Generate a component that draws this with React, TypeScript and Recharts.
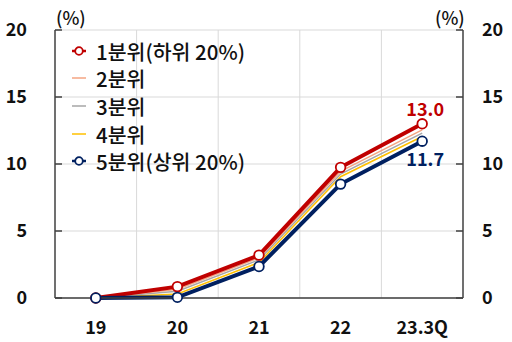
import React from "react";
import {
  LineChart,
  Line,
  XAxis,
  YAxis,
  CartesianGrid,
  ReferenceLine,
} from "recharts";

const categories = ["19", "20", "21", "22", "23.3Q"];
const q1 = [0, 0.85, 3.2, 9.75, 13.0];
const q2 = [0, 0.65, 3.0, 9.45, 12.55];
const q3 = [0, 0.5, 2.85, 9.25, 12.3];
const q4 = [0, 0.3, 2.65, 9.05, 12.05];
const q5 = [0, 0.05, 2.35, 8.5, 11.7];
const yTicks = [0, 5, 10, 15, 20];

const FONT = '"Noto Sans CJK KR", "Noto Sans", sans-serif';
const AXIS = "#404040";

const series = [
  { key: "q1", name: "1분위(하위 20%)", color: "#C00000", width: 4, dot: true },
  { key: "q2", name: "2분위", color: "#F4A582", width: 1.5, dot: false },
  { key: "q3", name: "3분위", color: "#A6A6A6", width: 1.5, dot: false },
  { key: "q4", name: "4분위", color: "#FFC000", width: 1.5, dot: false },
  { key: "q5", name: "5분위(상위 20%)", color: "#002060", width: 4, dot: true },
];

const rows = categories.map((c, i) => ({
  x: i + 0.5,
  label: c,
  q1: q1[i],
  q2: q2[i],
  q3: q3[i],
  q4: q4[i],
  q5: q5[i],
}));

const xTicks = rows.map((r) => r.x);
const boundaries = categories.slice(1).map((_, i) => i + 1);

// 왼쪽 축: 눈금선은 안쪽으로
function LeftTick({ x, y, payload }: any) {
  return (
    <g>
      <line x1={x + 28} x2={x + 35} y1={y} y2={y} stroke={AXIS} strokeWidth={1.5} />
      <text x={x} y={y} dy="0.36em" textAnchor="end" fontFamily={FONT} fontSize={18} fontWeight={700} fill="#111">
        {payload.value}
      </text>
    </g>
  );
}

function RightTick({ x, y, payload }: any) {
  return (
    <g>
      <line x1={x - 26} x2={x - 19} y1={y} y2={y} stroke={AXIS} strokeWidth={1.5} />
      <text x={x} y={y} dy="0.36em" textAnchor="start" fontFamily={FONT} fontSize={18} fontWeight={700} fill="#111">
        {payload.value}
      </text>
    </g>
  );
}

function lastLabel(color: string, dy: number) {
  return (props: any) => {
    const { x, y, index, value } = props;
    if (index !== categories.length - 1) return null;
    return (
      <text x={x + 3} y={y + dy} textAnchor="middle" dominantBaseline="central" fontFamily={FONT} fontSize={18} fontWeight={700} fill={color}>
        {Number(value).toFixed(1)}
      </text>
    );
  };
}

function LegendBox() {
  return (
    <div style={{ position: "absolute", left: 70, top: 37, fontFamily: FONT, fontSize: 20.5, fontWeight: 500, color: "#111" }}>
      {series.map((s) => (
        <div key={s.key} style={{ display: "flex", alignItems: "center", height: 27.6 }}>
          <svg width={20} height={12} style={{ marginRight: 6 }}>
            <line x1={2} x2={16} y1={6} y2={6} stroke={s.color} strokeWidth={s.dot ? 2.5 : 1.5} />
            {s.dot && <circle cx={9} cy={6} r={3.8} fill="#fff" stroke={s.color} strokeWidth={1.8} />}
          </svg>
          <span>{s.name}</span>
        </div>
      ))}
    </div>
  );
}

export default function App() {
  const drawOrder = [series[3], series[2], series[1], series[0], series[4]];
  return (
    <div style={{ position: "absolute", left: 0, top: 0, width: 512, height: 342, background: "#fff" }}>
      <LineChart width={512} height={342} data={rows} margin={{ top: 30, right: 0, bottom: 0, left: 0 }}>
        <CartesianGrid vertical={false} stroke="#D9D9D9" yAxisId="left" />
        {boundaries.map((b) => (
          <ReferenceLine key={b} x={b} yAxisId="left" stroke="#D9D9D9" />
        ))}
        <XAxis
          type="number"
          dataKey="x"
          domain={[0, 5]}
          ticks={xTicks}
          tickFormatter={(v: number) => categories[Math.floor(v)]}
          height={44}
          tickSize={0}
          tickMargin={23}
          axisLine={{ stroke: AXIS, strokeWidth: 1.5 }}
          tick={{ fontFamily: FONT, fontSize: 18, fontWeight: 700, fill: "#111" }}
        />
        <YAxis
          yAxisId="left"
          domain={[0, 20]}
          ticks={yTicks}
          width={55}
          tickSize={0}
          tickMargin={28}
          axisLine={{ stroke: AXIS, strokeWidth: 1.5 }}
          tick={<LeftTick />}
        />
        <YAxis
          yAxisId="right"
          orientation="right"
          domain={[0, 20]}
          ticks={yTicks}
          width={49}
          tickSize={0}
          tickMargin={19}
          axisLine={{ stroke: AXIS, strokeWidth: 1.5 }}
          tick={<RightTick />}
        />
        {drawOrder.map((s) => (
          <Line
            key={s.key}
            yAxisId={s.key === "q5" ? "right" : "left"}
            type="linear"
            dataKey={s.key}
            stroke={s.color}
            strokeWidth={s.width}
            dot={s.dot ? { r: 4.8, fill: "#fff", stroke: s.color, strokeWidth: 1.8 } : false}
            activeDot={false}
            isAnimationActive={false}
            label={s.key === "q1" ? lastLabel(s.color, -16) : s.key === "q5" ? lastLabel(s.color, 17) : undefined}
          />
        ))}
      </LineChart>
      <div style={{ position: "absolute", left: 56, top: 4, fontFamily: FONT, fontSize: 18, fontWeight: 500, color: "#111" }}>(%)</div>
      <div style={{ position: "absolute", left: 435, top: 4, fontFamily: FONT, fontSize: 18, fontWeight: 500, color: "#111" }}>(%)</div>
      <LegendBox />
    </div>
  );
}
